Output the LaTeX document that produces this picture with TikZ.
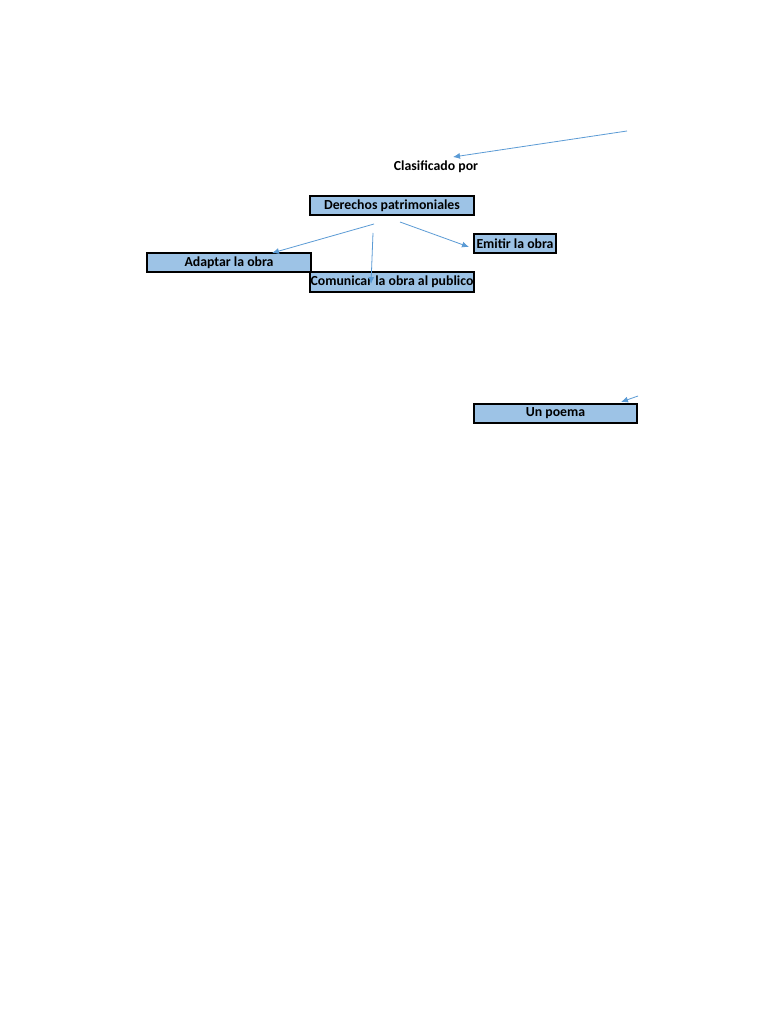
\documentclass[tikz,border=0pt]{standalone}
\usepackage{fontspec}
\setmainfont{Carlito}
\usetikzlibrary{arrows.meta}
\definecolor{boxfill}{HTML}{9DC3E6}
\definecolor{arrowblue}{HTML}{5B9BD5}
\begin{document}
\begin{tikzpicture}[x=1pt,y=-1pt,
  cbox/.style={draw=black,line width=1.6pt,fill=boxfill,inner sep=0pt,font=\fontsize{13.8}{15}\selectfont\bfseries},
  conn/.style={draw=arrowblue,line width=0.8pt,-{Latex[length=7pt,width=6pt]}}]
\useasboundingbox (0,0) rectangle (768,1024);
\fill[white] (0,0) rectangle (768,1024);
\node[font=\fontsize{13.8}{15}\selectfont\bfseries] (clas) at (436,167) {Clasificado por};
\node[cbox,minimum width=164pt,minimum height=19pt] (der) at (392,205.5) {Derechos patrimoniales};
\node[cbox,minimum width=82pt,minimum height=19pt] (emi) at (515,243.5) {Emitir la obra};
\node[cbox,minimum width=164pt,minimum height=19pt] (ada) at (229,262.5) {Adaptar la obra};
\node[cbox,minimum width=164pt,minimum height=20pt] (com) at (392,282) {Comunicar la obra al publico};
\node[cbox,minimum width=163pt,minimum height=19pt] (poe) at (555.5,413.5) {Un poema};
\coordinate (s1) at (627,131);
\coordinate (e1) at (453,157);
\coordinate (s2) at (374,224);
\coordinate (e2) at (272,253);
\coordinate (s3) at (373,233);
\coordinate (e3) at (371,284);
\coordinate (s4) at (400,222);
\coordinate (e4) at (469,247);
\coordinate (s5) at (638,396);
\coordinate (e5) at (621,402);
\draw[conn] (s1) -- (e1);
\draw[conn] (s2) -- (e2);
\draw[conn] (s3) -- (e3);
\draw[conn] (s4) -- (e4);
\draw[conn] (s5) -- (e5);
\end{tikzpicture}
\end{document}
